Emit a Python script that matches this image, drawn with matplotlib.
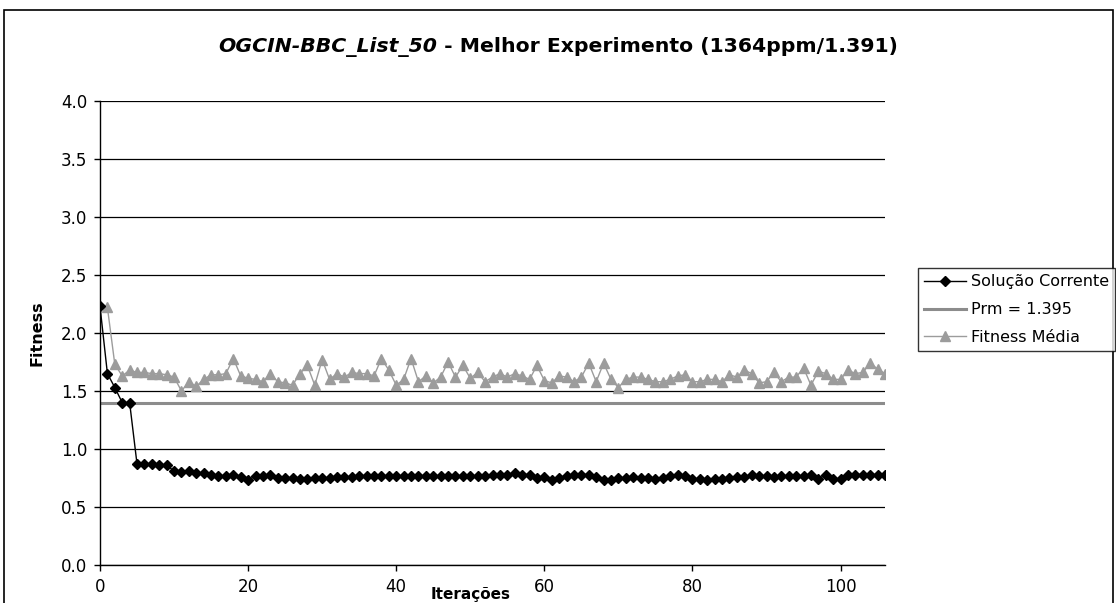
import matplotlib
matplotlib.use("Agg")
import matplotlib.pyplot as plt
from matplotlib.patches import Rectangle

plt.rcParams['font.family'] = ['DejaVu Sans']

iter_sol = list(range(0, 107))
sol_corrente = [
    2.23, 1.65, 1.53, 1.40, 1.40, 0.87, 0.87, 0.87, 0.86, 0.86,
    0.81, 0.80, 0.81, 0.79, 0.79, 0.78, 0.77, 0.77, 0.78, 0.76,
    0.73, 0.77, 0.77, 0.78, 0.75, 0.75, 0.75, 0.74, 0.74, 0.75,
    0.75, 0.75, 0.76, 0.76, 0.76, 0.77, 0.77, 0.77, 0.77, 0.77,
    0.77, 0.77, 0.77, 0.77, 0.77, 0.77, 0.77, 0.77, 0.77, 0.77,
    0.77, 0.77, 0.77, 0.78, 0.78, 0.78, 0.79, 0.78, 0.78, 0.75,
    0.76, 0.73, 0.75, 0.77, 0.78, 0.78, 0.78, 0.76, 0.73, 0.73,
    0.75, 0.75, 0.76, 0.75, 0.75, 0.74, 0.75, 0.77, 0.78, 0.77,
    0.74, 0.74, 0.73, 0.74, 0.74, 0.75, 0.76, 0.76, 0.78, 0.77,
    0.77, 0.76, 0.77, 0.77, 0.77, 0.77, 0.78, 0.74, 0.78, 0.74,
    0.74, 0.78, 0.78, 0.78, 0.78, 0.78, 0.78,
]

iter_media = list(range(1, 107))
fitness_media = [
    2.22, 1.73, 1.63, 1.68, 1.66, 1.66, 1.65, 1.65, 1.64,
    1.62, 1.50, 1.58, 1.54, 1.60, 1.64, 1.64, 1.65, 1.78, 1.63,
    1.61, 1.60, 1.58, 1.65, 1.58, 1.57, 1.55, 1.65, 1.72, 1.55,
    1.77, 1.60, 1.65, 1.62, 1.66, 1.65, 1.65, 1.63, 1.78, 1.68,
    1.55, 1.60, 1.78, 1.58, 1.63, 1.57, 1.62, 1.75, 1.62, 1.72,
    1.61, 1.66, 1.58, 1.62, 1.65, 1.62, 1.65, 1.63, 1.60, 1.72,
    1.59, 1.57, 1.63, 1.62, 1.58, 1.62, 1.74, 1.58, 1.74, 1.60,
    1.53, 1.60, 1.62, 1.62, 1.60, 1.58, 1.58, 1.60, 1.63, 1.64,
    1.58, 1.58, 1.60, 1.60, 1.58, 1.64, 1.62, 1.68, 1.65, 1.57,
    1.58, 1.66, 1.58, 1.62, 1.62, 1.70, 1.55, 1.67, 1.65, 1.60,
    1.60, 1.68, 1.65, 1.66, 1.74, 1.69, 1.65,
]

prm_value = 1.395
x_range = [0, 106]

W, H = 1116, 603
fig = plt.figure(figsize=(W / 100, H / 100), dpi=100)

# outer chart border
fig.add_artist(Rectangle((4 / W, -0.01), (1113 - 4) / W, (H - 10) / H + 0.01,
                         transform=fig.transFigure, fill=False,
                         edgecolor='black', linewidth=1.2))

left, right, top, bottom = 100, 885, 101, 565
ax = fig.add_axes([left / W, 1 - bottom / H, (right - left) / W, (bottom - top) / H])

ax.set_xlim(0, 106)
ax.set_ylim(0, 4.0)
ax.set_yticks([i * 0.5 for i in range(9)])
ax.set_yticklabels([f"{i * 0.5:.1f}" for i in range(9)])
ax.set_xticks(range(0, 101, 20))
ax.yaxis.grid(True, color='black', linewidth=0.9)
ax.set_axisbelow(True)
for s in ['top', 'right']:
    ax.spines[s].set_visible(False)
ax.spines['left'].set_linewidth(1.0)
ax.spines['bottom'].set_linewidth(1.0)
ax.tick_params(direction='out', length=4, width=1, labelsize=12, pad=5)

l_prm = ax.plot(x_range, [prm_value, prm_value], color='#8c8c8c', linewidth=2.2,
                label='Prm = 1.395', zorder=2)[0]
l_med = ax.plot(iter_media, fitness_media, color='#9c9c9c', linewidth=1.0,
                marker='^', markersize=7, markerfacecolor='#9c9c9c',
                markeredgecolor='#9c9c9c', label='Fitness Média', zorder=3)[0]
l_sol = ax.plot(iter_sol, sol_corrente, color='black', linewidth=1.0,
                marker='D', markersize=5.5, markerfacecolor='black',
                markeredgecolor='black', label='Solução Corrente', zorder=4)[0]

ax.set_ylabel('Fitness', fontsize=11.5, fontweight='bold')
ax.yaxis.set_label_coords((37 - left) / (right - left), 0.5)
ax.yaxis.label.set_va('center')
ax.set_xlabel('Iterações', fontsize=11, fontweight='bold')
ax.xaxis.set_label_coords((471 - left) / (right - left), (bottom - 595) / (bottom - top))
ax.xaxis.label.set_va('center')

leg = fig.legend([l_sol, l_prm, l_med], ['Solução Corrente', 'Prm = 1.395', 'Fitness Média'],
                 loc='upper left', bbox_to_anchor=(918 / W, 1 - 268 / H),
                 frameon=True, fancybox=False, fontsize=11.5, handlelength=2.6,
                 handletextpad=0.3, borderpad=0.4, labelspacing=0.8,
                 borderaxespad=0)
leg.get_frame().set_edgecolor('black')
leg.get_frame().set_linewidth(1.0)

# title in two parts
fig.canvas.draw()
r = fig.canvas.get_renderer()
ty = 1 - 47 / H
t1 = fig.text(0, ty, 'OGCIN-BBC_List_50', fontsize=14.7, fontweight='bold',
              fontstyle='italic', va='center', ha='left')
t2 = fig.text(0, ty, ' - Melhor Experimento (1364ppm/1.391)', fontsize=14.7,
              fontweight='bold', va='center', ha='left')
w1 = t1.get_window_extent(r).width
w2 = t2.get_window_extent(r).width
x0 = 558 - (w1 + w2) / 2
t1.set_x(x0 / W)
t2.set_x((x0 + w1) / W)

fig.savefig('out.png', dpi=100)
